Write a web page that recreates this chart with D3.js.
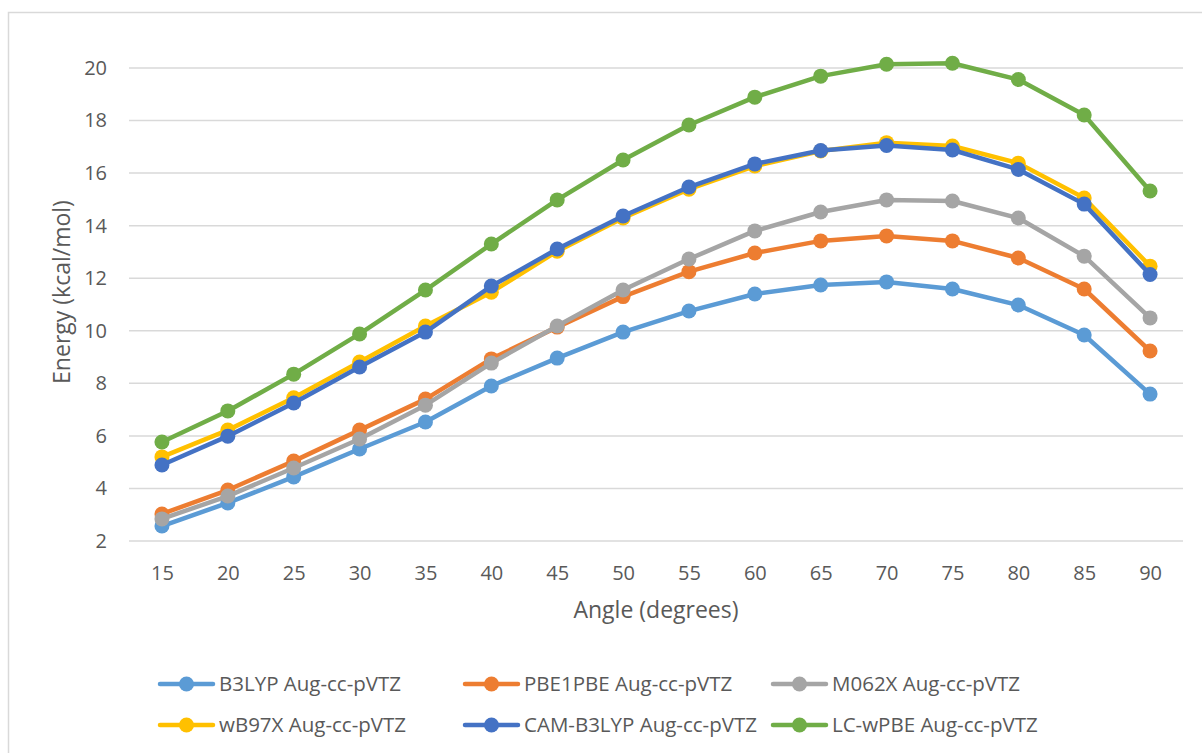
<!DOCTYPE html>
<html>
<head>
<meta charset="utf-8">
<script src="https://cdn.jsdelivr.net/npm/d3@7"></script>
<style>
  html, body { margin: 0; padding: 0; background: #fff; }
  svg { display: block; }
  text { font-family: "Open Sans", "Liberation Sans", sans-serif; fill: #595959; }
</style>
</head>
<body>
<svg id="chart" width="1202" height="753"></svg>
<script>
// ---- data ----
const angles = [15, 20, 25, 30, 35, 40, 45, 50, 55, 60, 65, 70, 75, 80, 85, 90];
const yTicks = [2, 4, 6, 8, 10, 12, 14, 16, 18, 20];
const seriesNames = [
  "B3LYP Aug-cc-pVTZ",
  "PBE1PBE Aug-cc-pVTZ",
  "M062X Aug-cc-pVTZ",
  "wB97X Aug-cc-pVTZ",
  "CAM-B3LYP Aug-cc-pVTZ",
  "LC-wPBE Aug-cc-pVTZ"
];
const seriesColors = ["#5B9BD5", "#ED7D31", "#A5A5A5", "#FFC000", "#4472C4", "#70AD47"];
const b3lyp   = [2.57, 3.45, 4.44, 5.50, 6.53, 7.90, 8.96, 9.95, 10.75, 11.40, 11.74, 11.86, 11.59, 10.98, 9.84, 7.59];
const pbe1pbe = [3.03, 3.94, 5.04, 6.22, 7.40, 8.93, 10.14, 11.30, 12.25, 12.96, 13.42, 13.61, 13.42, 12.77, 11.59, 9.23];
const m062x   = [2.84, 3.71, 4.78, 5.88, 7.17, 8.77, 10.18, 11.55, 12.73, 13.80, 14.52, 14.98, 14.94, 14.29, 12.84, 10.49];
const wb97x   = [5.20, 6.22, 7.45, 8.81, 10.18, 11.47, 13.03, 14.29, 15.39, 16.27, 16.84, 17.16, 17.03, 16.38, 15.05, 12.46];
const camb3lyp= [4.89, 5.99, 7.25, 8.62, 9.95, 11.70, 13.11, 14.37, 15.47, 16.35, 16.86, 17.05, 16.88, 16.14, 14.82, 12.14];
const lcwpbe  = [5.77, 6.95, 8.35, 9.88, 11.55, 13.30, 14.98, 16.50, 17.83, 18.89, 19.69, 20.14, 20.18, 19.56, 18.21, 15.32];
const seriesValues = [b3lyp, pbe1pbe, m062x, wb97x, camb3lyp, lcwpbe];

// ---- layout ----
const svg = d3.select("#chart");
const plot = { left: 129, right: 1183, top: 68, bottom: 541 };

// chart frame
svg.append("rect")
  .attr("x", 8.5).attr("y", 12.5)
  .attr("width", 1210).attr("height", 760)
  .attr("fill", "none").attr("stroke", "#d9d9d9").attr("stroke-width", 1.5);

const x = d3.scalePoint().domain(angles).range([plot.left, plot.right]).padding(0.5);
const y = d3.scaleLinear().domain([2, 20]).range([plot.bottom, plot.top]);

// gridlines
svg.append("g").selectAll("line").data(yTicks).join("line")
  .attr("x1", plot.left).attr("x2", plot.right)
  .attr("y1", d => y(d)).attr("y2", d => y(d))
  .attr("stroke", "#d9d9d9").attr("stroke-width", 1.5);

// y axis labels
const yAxis = d3.axisLeft(y).tickValues(yTicks).tickSize(0).tickPadding(0);
const gy = svg.append("g").attr("transform", `translate(107,0)`).call(yAxis);
gy.select(".domain").remove();
gy.selectAll("text").attr("font-size", 20).attr("fill", "#595959")
  .style("font-family", "'Open Sans', sans-serif");

// x axis labels
const xAxis = d3.axisBottom(x).tickSize(0).tickPadding(0);
const gx = svg.append("g").attr("transform", `translate(0,${plot.bottom})`).call(xAxis);
gx.select(".domain").remove();
gx.selectAll("text").attr("font-size", 20).attr("fill", "#595959")
  .attr("dy", null).attr("y", 39)
  .style("font-family", "'Open Sans', sans-serif");

// axis titles
svg.append("text")
  .attr("x", 656).attr("y", 618)
  .attr("text-anchor", "middle").attr("font-size", 23)
  .text("Angle (degrees)");
svg.append("text")
  .attr("transform", "translate(70,292) rotate(-90)")
  .attr("text-anchor", "middle").attr("font-size", 23)
  .text("Energy (kcal/mol)");

// series
const line = d3.line().x((d, i) => x(angles[i])).y(d => y(d));
seriesValues.forEach((vals, si) => {
  const g = svg.append("g");
  g.append("path").datum(vals)
    .attr("d", line)
    .attr("fill", "none")
    .attr("stroke", seriesColors[si])
    .attr("stroke-width", 4.5)
    .attr("stroke-linejoin", "round");
  g.selectAll("circle").data(vals).join("circle")
    .attr("cx", (d, i) => x(angles[i]))
    .attr("cy", d => y(d))
    .attr("r", 7.5)
    .attr("fill", seriesColors[si]);
});

// legend
const legCols = [160, 465, 773];
const legRows = [684, 725];
seriesNames.forEach((name, i) => {
  const lx = legCols[i % 3], ly = legRows[Math.floor(i / 3)];
  const g = svg.append("g").attr("transform", `translate(${lx},${ly})`);
  g.append("line").attr("x1", 0).attr("x2", 53).attr("y1", 0).attr("y2", 0)
    .attr("stroke", seriesColors[i]).attr("stroke-width", 4.5).attr("stroke-linecap", "round");
  g.append("circle").attr("cx", 26.5).attr("cy", 0).attr("r", 7.5).attr("fill", seriesColors[i]);
  g.append("text").attr("x", 59).attr("y", 0).attr("dy", "0.35em")
    .attr("font-size", 20.5).attr("textLength", null).text(name);
});
</script>
</body>
</html>
